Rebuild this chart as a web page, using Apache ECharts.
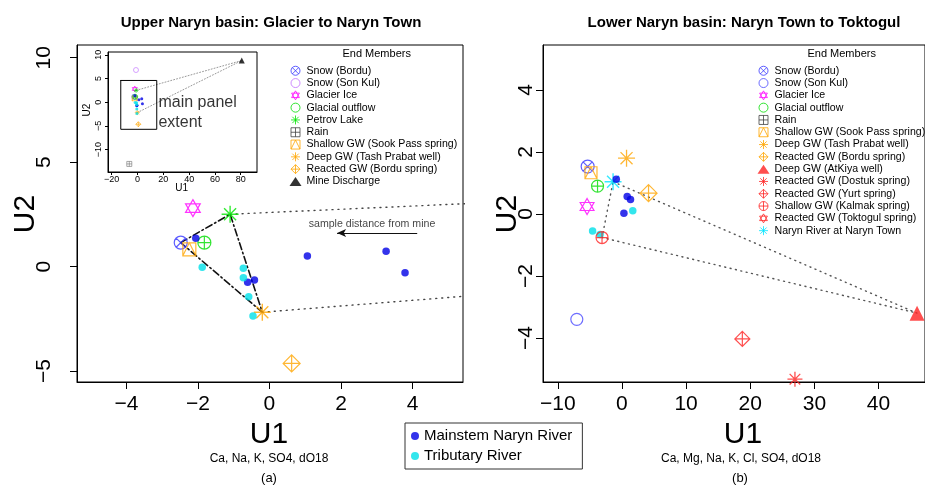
<!DOCTYPE html>
<html><head><meta charset="utf-8">
<script src="https://cdn.jsdelivr.net/npm/echarts@6/dist/echarts.min.js"></script>
<style>html,body{margin:0;padding:0;background:#fff}#c{width:925px;height:486px}</style>
</head><body><div id="c"></div><script>
const FONT = '"Liberation Sans", Arial, Helvetica, sans-serif';

// ---------------- (a) Upper Naryn basin ----------------
const upTicksX = [-4, -2, 0, 2, 4];
const upTicksY = [-5, 0, 5, 10];
const upSnowBordu = [[-2.48, 1.15]];
const upSnowSonKul = [[-1.2, 6.8]];
const upGlacierIce = [[-2.14, 2.80]];
const upGlacialOutflow = [[-1.82, 1.15]];
const upPetrovLake = [[-1.10, 2.51]];
const upRain = [[-6.4, -13.0]];
const upShallowGW = [[-2.24, 0.83]];
const upDeepGW = [[-0.20, -2.18]];
const upReactedGW = [[0.62, -4.63]];
const upMineDischarge = [[80.8, 8.8]];
const upMainstem = [[-2.06, 1.36], [-0.61, -0.75], [-0.42, -0.64], [1.06, 0.51], [3.26, 0.74], [3.79, -0.29]];
const upTributary = [[-1.88, -0.03], [-0.73, -0.08], [-0.73, -0.53], [-0.58, -1.44], [-0.46, -2.36]];
const upArrow = [[4.13, 1.61], [1.89, 1.61]];
const upArrowText = [[2.88, 2.02]];
// inset
const insetTicksX = [-20, 0, 20, 40, 60, 80];
const insetTicksY = [-10, -5, 0, 5, 10];
const insetExtent = [[-13, 4.6], [14.9, 4.6], [14.9, -5.7], [-13, -5.7], [-13, 4.6]];
const insetTextPos = [[16.6, -0.2], [16.6, -4.4]];

// ---------------- (b) Lower Naryn basin ----------------
const lowTicksX = [-10, 0, 10, 20, 30, 40];
const lowTicksY = [-4, -2, 0, 2, 4];
const lowSnowBordu = [[-5.34, 1.53]];
const lowSnowSonKul = [[-7.03, -3.40]];
const lowGlacierIce = [[-5.43, 0.24]];
const lowGlacialOutflow = [[-3.80, 0.90]];
const lowRain = [];
const lowShallowGW = [[-4.82, 1.33]];
const lowDeepGW = [[0.72, 1.80]];
const lowReactedBordu = [[4.15, 0.67]];
const lowAtKiya = [[46.0, -3.2]];
const lowDostuk = [[26.97, -5.33]];
const lowYurt = [[18.77, -4.03]];
const lowKalmak = [[-3.10, -0.76]];
const lowToktogul = [];
const lowNarynTown = [[-1.38, 1.04]];
const lowMainstem = [[-0.88, 1.12], [0.82, 0.56], [1.34, 0.47], [0.31, 0.02]];
const lowTributary = [[1.69, 0.10], [-4.57, -0.55], [-3.40, -0.66]];

// ---------------- styling ----------------
const P = {
  circleX: 'path://M0,10A10,10,0,1,1,20,10A10,10,0,1,1,0,10ZM2.93,2.93L17.07,17.07M17.07,2.93L2.93,17.07',
  circlePlus: 'path://M0,10A10,10,0,1,1,20,10A10,10,0,1,1,0,10ZM10,0L10,20M0,10L20,10',
  star6: 'path://M10,0L18.66,15L1.34,15ZM10,20L18.66,5L1.34,5Z',
  asterisk: 'path://M10,0L10,20M0,10L20,10M2.93,2.93L17.07,17.07M17.07,2.93L2.93,17.07',
  diamondPlus: 'path://M10,0L20,10L10,20L0,10ZM10,0L10,20M0,10L20,10',
  squarePlus: 'path://M0,0L20,0L20,20L0,20ZM10,0L10,20M0,10L20,10',
  squareTri: 'path://M0,0L20,0L20,20L0,20ZM0,20L10,0L20,20'
};
const C = {
  blue: '#3535ff', violet: '#c070ff', sonKulB: '#4a4aff', magenta: '#ff00ff', green: '#00dd00',
  petrov: '#00e600', rain: '#444444', orange: '#ffa500', red: '#ff2222', cyan: '#00e5ff',
  main: '#0000e6', trib: '#00e0e8'
};
const fmt = v => (v < 0 ? '\u2212' + Math.abs(v) : String(v));

function em(name, data, g, sym, size, color, filled, bw, z) {
  return {
    type: 'scatter', name, data, xAxisIndex: g, yAxisIndex: g, symbol: sym, symbolSize: size,
    symbolKeepAspect: true, silent: true, clip: true, z: z || 4,
    itemStyle: filled ? { color, borderWidth: 0 } : { color: 'rgba(0,0,0,0)', borderColor: color, borderWidth: bw || 1.2 }
  };
}
function ln(data, g, color, width, type, z) {
  return { type: 'line', data, xAxisIndex: g, yAxisIndex: g, symbol: 'none', silent: true, clip: true, z: z || 3,
    lineStyle: { color, width, type, cap: 'round' } };
}
function xAx(g, min, max, ticks, fs, tl, margin, z) {
  return { gridIndex: g, type: 'value', min, max, z: z || 0,
    axisLine: { show: true, onZero: false, lineStyle: { color: '#000', width: 1 } },
    axisTick: { show: true, inside: false, length: tl, customValues: ticks, lineStyle: { color: '#000' } },
    axisLabel: { customValues: ticks, formatter: fmt, fontSize: fs, fontFamily: FONT, color: '#000', margin },
    splitLine: { show: false } };
}
function yAx(g, min, max, ticks, fs, tl, margin, z) {
  const a = xAx(g, min, max, ticks, fs, tl, margin, z);
  a.axisLabel.rotate = 90;
  return a;
}

const series = [
  // ---- (a) main panel ----
  ln([upSnowBordu[0], upPetrovLake[0], upDeepGW[0], upSnowBordu[0]], 0, '#111', 1.6, [7, 3, 1.5, 3]),
  ln([upPetrovLake[0], upMineDischarge[0]], 0, '#444', 1.4, [1, 5]),
  ln([upDeepGW[0], upMineDischarge[0]], 0, '#444', 1.4, [1, 5]),
  em('Glacier Ice', upGlacierIce, 0, P.star6, 17, C.magenta),
  em('Snow (Bordu)', upSnowBordu, 0, P.circleX, 13, C.blue),
  em('Shallow GW (Sook Pass spring)', upShallowGW, 0, P.squareTri, 13, C.orange),
  em('Glacial outflow', upGlacialOutflow, 0, P.circlePlus, 13, C.green),
  em('Petrov Lake', upPetrovLake, 0, P.asterisk, 17, C.petrov, false, 1.4),
  em('Deep GW (Tash Prabat well)', upDeepGW, 0, P.asterisk, 17, C.orange, false, 1.4),
  em('Reacted GW (Bordu spring)', upReactedGW, 0, P.diamondPlus, 17, C.orange),
  em('Mainstem Naryn River', upMainstem, 0, 'circle', 7.5, C.main, true, 0, 5),
  em('Tributary River', upTributary, 0, 'circle', 7.5, C.trib, true, 0, 5),
  {
    type: 'scatter', data: upArrowText, xAxisIndex: 0, yAxisIndex: 0, symbolSize: 1, silent: true,
    itemStyle: { color: 'rgba(0,0,0,0)' },
    label: { show: true, position: [0, 0], align: 'center', verticalAlign: 'middle', formatter: 'sample distance from mine',
      fontFamily: FONT, fontSize: 10.6, color: '#111' },
    markLine: { silent: true, symbol: ['none', 'arrow'], symbolSize: [6, 9], animation: false,
      lineStyle: { color: '#111', width: 1, type: 'solid' }, label: { show: false },
      data: [[{ coord: upArrow[0] }, { coord: upArrow[1] }]] }
  },
  // ---- inset ----
  ln([upPetrovLake[0], upMineDischarge[0]], 2, '#999', 1, [1, 2], 12),
  ln([upDeepGW[0], upMineDischarge[0]], 2, '#999', 1, [1, 2], 12),
  ln(insetExtent, 2, '#000', 1, 'solid', 12),
  em('Snow (Son Kul)', upSnowSonKul, 2, 'circle', 5, C.violet, false, 0.8, 13),
  em('Glacier Ice', upGlacierIce, 2, P.star6, 6, C.magenta, false, 0.8, 13),
  em('Rain', upRain, 2, P.squarePlus, 5, '#777', false, 0.8, 13),
  em('Mine Discharge', upMineDischarge, 2, 'triangle', 6, '#000', true, 0, 13),
  em('Reacted GW (Bordu spring)', upReactedGW, 2, P.diamondPlus, 5, C.orange, false, 0.8, 13),
  em('Deep GW (Tash Prabat well)', upDeepGW, 2, P.asterisk, 5, C.orange, false, 0.8, 13),
  em('Snow (Bordu)', upSnowBordu, 2, P.circleX, 5, C.blue, false, 0.8, 13),
  em('Shallow GW (Sook Pass spring)', upShallowGW, 2, P.squareTri, 5, C.orange, false, 0.8, 13),
  em('Glacial outflow', upGlacialOutflow, 2, P.circlePlus, 5, C.green, false, 0.8, 13),
  em('Petrov Lake', upPetrovLake, 2, P.asterisk, 5, C.petrov, false, 0.8, 13),
  em('Mainstem Naryn River', upMainstem, 2, 'circle', 3, C.main, true, 0, 14),
  em('Tributary River', upTributary, 2, 'circle', 3, C.trib, true, 0, 14),
  {
    type: 'scatter', data: insetTextPos.map((p, i) => ({ value: p, label: { formatter: i ? 'extent' : 'main panel' } })),
    xAxisIndex: 2, yAxisIndex: 2, symbolSize: 1, silent: true, z: 14, itemStyle: { color: 'rgba(0,0,0,0)' },
    label: { show: true, position: [0, 0], align: 'left', verticalAlign: 'middle', fontFamily: FONT, fontSize: 16, color: '#000' }
  },
  // ---- (b) main panel ----
  ln([lowNarynTown[0], lowAtKiya[0], lowKalmak[0], lowNarynTown[0]], 1, '#555', 1.4, [1, 4.5]),
  em('Snow (Bordu)', lowSnowBordu, 1, P.circleX, 13, C.blue),
  em('Shallow GW (Sook Pass spring)', lowShallowGW, 1, P.squareTri, 12, C.orange),
  em('Snow (Son Kul)', lowSnowSonKul, 1, 'circle', 12, C.sonKulB),
  em('Glacier Ice', lowGlacierIce, 1, P.star6, 16, C.magenta),
  em('Glacial outflow', lowGlacialOutflow, 1, P.circlePlus, 12, C.green),
  em('Rain', lowRain, 1, P.squarePlus, 12, C.rain),
  em('Deep GW (Tash Prabat well)', lowDeepGW, 1, P.asterisk, 17, C.orange, false, 1.3),
  em('Reacted GW (Bordu spring)', lowReactedBordu, 1, P.diamondPlus, 17, C.orange),
  em('Deep GW (AtKiya well)', lowAtKiya, 1, 'triangle', 15, C.red, true),
  em('Reacted GW (Dostuk spring)', lowDostuk, 1, P.asterisk, 15, C.red, false, 1.3),
  em('Reacted GW (Yurt spring)', lowYurt, 1, P.diamondPlus, 15, C.red),
  em('Reacted GW (Toktogul spring)', lowToktogul, 1, P.star6, 15, C.red),
  em('Mainstem Naryn River', lowMainstem, 1, 'circle', 7.5, C.main, true, 0, 5),
  em('Tributary River', lowTributary, 1, 'circle', 7.5, C.trib, true, 0, 5),
  em('Shallow GW (Kalmak spring)', lowKalmak, 1, P.circlePlus, 12, C.red, false, 1.2, 6),
  em('Naryn River at Naryn Town', lowNarynTown, 1, P.asterisk, 17, C.cyan, false, 1.4, 4)
];

function li(name, icon, color, filled) {
  return { name, icon, itemStyle: filled ? { color, borderWidth: 0 } : { color: 'rgba(0,0,0,0)', borderColor: color, borderWidth: 1 } };
}
const legendText = { fontFamily: FONT, fontSize: 10.6, lineHeight: 12.3, color: '#000' };
const legends = [
  { orient: 'vertical', left: 289.5, top: 64.6, itemWidth: 12, itemHeight: 9, itemGap: 0, padding: 0, selectedMode: false,
    textStyle: legendText, data: [
      li('Snow (Bordu)', P.circleX, C.blue), li('Snow (Son Kul)', 'circle', C.violet), li('Glacier Ice', P.star6, C.magenta),
      li('Glacial outflow', 'circle', C.green), li('Petrov Lake', P.asterisk, C.petrov), li('Rain', P.squarePlus, C.rain),
      li('Shallow GW (Sook Pass spring)', P.squareTri, C.orange), li('Deep GW (Tash Prabat well)', P.asterisk, C.orange),
      li('Reacted GW (Bordu spring)', P.diamondPlus, C.orange), li('Mine Discharge', 'triangle', '#000', true)] },
  { orient: 'vertical', left: 757.5, top: 64.6, itemWidth: 12, itemHeight: 9, itemGap: 0, padding: 0, selectedMode: false,
    textStyle: legendText, data: [
      li('Snow (Bordu)', P.circleX, C.blue), li('Snow (Son Kul)', 'circle', C.sonKulB), li('Glacier Ice', P.star6, C.magenta),
      li('Glacial outflow', 'circle', C.green), li('Rain', P.squarePlus, C.rain),
      li('Shallow GW (Sook Pass spring)', P.squareTri, C.orange), li('Deep GW (Tash Prabat well)', P.asterisk, C.orange),
      li('Reacted GW (Bordu spring)', P.diamondPlus, C.orange), li('Deep GW (AtKiya well)', 'triangle', C.red, true),
      li('Reacted GW (Dostuk spring)', P.asterisk, C.red), li('Reacted GW (Yurt spring)', P.diamondPlus, C.red),
      li('Shallow GW (Kalmak spring)', P.circlePlus, C.red), li('Reacted GW (Toktogul spring)', P.star6, C.red),
      li('Naryn River at Naryn Town', P.asterisk, C.cyan)] },
  { orient: 'vertical', left: 405, top: 423, itemWidth: 8, itemHeight: 8, itemGap: 4, padding: [5, 10, 5, 6], selectedMode: false,
    borderColor: '#333', borderWidth: 1, textStyle: { fontFamily: FONT, fontSize: 15, lineHeight: 16, color: '#000' },
    data: [li('Mainstem Naryn River', 'circle', C.main, true), li('Tributary River', 'circle', C.trib, true)] }
];

function txt(text, x, y, size, opts) {
  opts = opts || {};
  return { type: 'text', x, y, rotation: opts.rot || 0, silent: true, z: 50,
    style: { text, fill: '#000', font: (opts.bold ? 'bold ' : '') + size + 'px ' + FONT,
      textAlign: 'center', textVerticalAlign: 'middle', align: 'center', verticalAlign: 'middle' } };
}
const graphics = [
  txt('Upper Naryn basin: Glacier to Naryn Town', 271, 23, 15, { bold: true }),
  txt('Lower Naryn basin: Naryn Town to Toktogul', 744, 23, 15, { bold: true }),
  txt('End Members', 376.7, 54, 11),
  txt('End Members', 841.7, 54, 11),
  txt('U1', 269, 435, 30),
  txt('U1', 743, 435, 30),
  txt('U2', 26, 214, 30, { rot: Math.PI / 2 }),
  txt('U2', 508, 214, 30, { rot: Math.PI / 2 }),
  txt('Ca, Na, K, SO4, dO18', 269, 459, 12),
  txt('Ca, Mg, Na, K, Cl, SO4, dO18', 741, 459, 12),
  txt('(a)', 269, 478, 13),
  txt('(b)', 740, 478, 13),
  txt('U1', 181.7, 188.5, 10),
  txt('U2', 87, 110, 10, { rot: Math.PI / 2 })
];

const option = {
  animation: false,
  backgroundColor: '#fff',
  grid: [
    { left: 77, top: 45, width: 386, height: 337, show: true, borderColor: '#000', borderWidth: 1, backgroundColor: 'rgba(0,0,0,0)', containLabel: false },
    { left: 543, top: 45, width: 387, height: 337, show: true, borderColor: '#000', borderWidth: 1, backgroundColor: 'rgba(0,0,0,0)', containLabel: false },
    { left: 108, top: 52, width: 149, height: 120, show: true, borderColor: '#000', borderWidth: 1, backgroundColor: '#fff', z: 10, containLabel: false }
  ],
  xAxis: [
    xAx(0, -5.38, 5.41, upTicksX, 21, 7, 12),
    xAx(1, -12.3, 47.24, lowTicksX, 21, 7, 12),
    xAx(2, -22.9, 92.6, insetTicksX, 9, 3, 3, 11)
  ],
  yAxis: [
    yAx(0, -5.52, 10.61, upTicksY, 21, 7, 22),
    yAx(1, -5.42, 5.45, lowTicksY, 21, 7, 6),
    yAx(2, -14.7, 10.6, insetTicksY, 9, 3, 5, 11)
  ],
  legend: legends,
  series,
  graphic: graphics
};
const chart = echarts.init(document.getElementById('c'), null, { renderer: 'canvas' });
chart.setOption(option);
</script></body></html>
